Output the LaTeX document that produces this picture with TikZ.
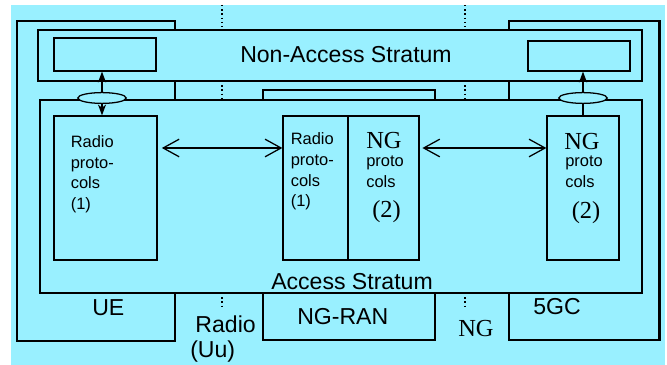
\documentclass[tikz,border=0pt]{standalone}
\usepackage{fontspec}
\setmainfont{Liberation Sans}
\newfontfamily\serifng{Liberation Serif}
\usepackage{tikz}
\usetikzlibrary{shapes.geometric,fit,arrows.meta}
\definecolor{skycyan}{RGB}{153,240,255}

\tikzset{
  layer/.style={draw, fill=skycyan, line width=0.9pt, inner sep=0pt, fit={#1}},
  sap/.style={draw, fill=skycyan, ellipse, line width=0.9pt, inner sep=0pt,
    minimum width=1.21cm, minimum height=0.27cm},
  biglabel/.style={font=\fontsize{16.4pt}{17.8pt}\selectfont, align=left,
    inner sep=0pt, anchor=base west},
  smalllabel/.style={font=\fontsize{11.7pt}{14.7pt}\selectfont, align=left,
    inner sep=0pt, anchor=base west},
  nglabel/.style={font=\serifng\fontsize{17.4pt}{18pt}\selectfont,
    inner sep=0pt, anchor=base west},
  sapline/.style={line width=0.9pt, -{Stealth[length=2.7mm, width=2mm, inset=0.8mm]}},
  peerline/.style={line width=0.9pt,
    {Straight Barb[length=4mm, width=4.4mm]}-{Straight Barb[length=4mm, width=4.4mm]}},
  refpoint/.style={line width=1pt, dotted}
}

\begin{document}
\begin{tikzpicture}[x=0.025cm, y=-0.025cm]
\useasboundingbox (0,0) rectangle (667,365);
\fill[skycyan] (11,5) rectangle (665,365);

% entities
\node[layer={(17,21) (175,341)}] (ue) {};
\node[layer={(509,21) (659,340)}] (cn) {};
\draw[line width=1.8pt] (cn.north east) -- (cn.south east);
\node[layer={(263,90) (435,340)}] (ran) {};

% strata
\node[layer={(38,30) (642,81)}] (nas) {};
\node[layer={(40,100) (642,293)}] (as) {};
\node[layer={(54,38) (156,71)}] (uenas) {};
\node[layer={(528,41) (630,71)}] (cnnas) {};

% protocol boxes
\node[layer={(54,116) (157,260)}] (uerp) {};
\node[layer={(283,116) (348,260)}] (ranrp) {};
\node[layer={(348,116) (419,260)}] (ranng) {};
\node[layer={(547,116) (619,260)}] (cnng) {};

\node[sap] (uesap) at (102,98) {};
\node[sap] (cnsap) at (583,98) {};

% reference points
\foreach \x in {222, 465} {
  \draw[refpoint] (\x,5) -- (\x,30) (\x,81) -- (\x,100) (\x,293) -- (\x,308);
}

% connectors
\coordinate (peer) at (0,148);
\draw[sapline] (uesap.north) -- (uesap.north |- uenas.south);
\draw[sapline] (uesap.south) -- (uesap.south |- uerp.north);
\draw[sapline] (cnsap.north) -- (cnsap.north |- cnnas.south);
\draw[line width=0.9pt] (cnsap.south) -- (cnsap.south |- cnng.north);
\draw[peerline, shorten <=3pt] (uerp.east |- peer) -- (ranrp.west |- peer);
\draw[peerline, shorten <=2pt] (ranng.east |- peer) -- (cnng.west |- peer);

% labels (multi-line ones sit on their last line)
\node[biglabel, anchor=base] (naslabel) at (346,63) {Non-Access Stratum};
\node[biglabel] (aslabel) at (271,290) {Access Stratum};
\node[biglabel] (uelabel) at (92,316) {UE};
\node[biglabel] (ranlabel) at (297,325) {NG-RAN};
\node[biglabel] (cnlabel) at (533,315) {5GC};
\node[biglabel] (uulabel) at (190,358) {\hspace*{0.13cm}Radio\\(Uu)};
\node[nglabel] (nglabel) at (458,336.5) {NG};

\node[smalllabel] (uerptext) at (70.5,209.5) {Radio\\proto-\\cols\\(1)};
\node[smalllabel] (ranrptext) at (290.5,207) {Radio\\proto-\\cols\\(1)};
\node[nglabel] (ranngname) at (366,148.5) {NG};
\node[smalllabel] (ranngtext) at (366,187.5) {proto\\cols};
\node[nglabel] (ranngnum) at (372,218) {(2)};
\node[nglabel] (cnngname) at (564,150) {NG};
\node[smalllabel] (cnngtext) at (565,187.5) {proto\\cols};
\node[nglabel] (cnngnum) at (571.5,218.5) {(2)};
\end{tikzpicture}
\end{document}
